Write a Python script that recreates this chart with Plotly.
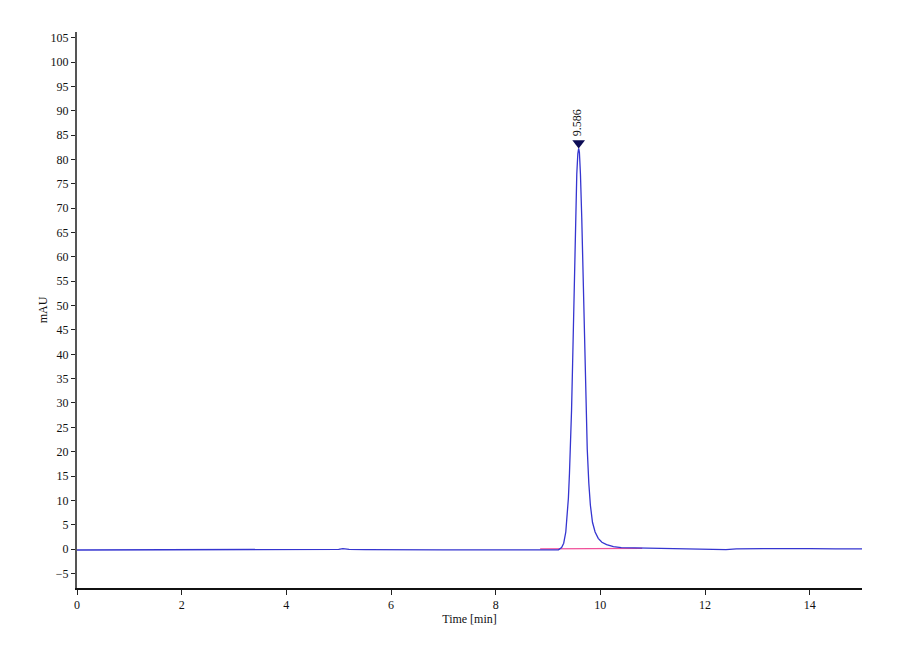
import plotly.graph_objects as go

# chromatogram trace (time in min, signal in mAU)
time_min = [0.0, 1.0, 2.0, 3.0, 4.0, 4.8, 5.0, 5.08, 5.2, 5.5, 6.0, 7.0, 8.0, 8.5, 9.0,
            9.20, 9.26, 9.30, 9.34, 9.37, 9.39, 9.41, 9.43, 9.45, 9.47, 9.49, 9.51,
            9.53, 9.55, 9.57, 9.586, 9.60, 9.62, 9.645, 9.67, 9.695, 9.72, 9.75,
            9.78, 9.81, 9.85, 9.90, 9.96, 10.03, 10.12, 10.25, 10.40, 10.6, 10.9,
            11.2, 11.6, 11.9, 12.2, 12.4, 12.6, 13.0, 13.5, 14.0, 14.5, 15.0]
signal_mau = [-0.2, -0.2, -0.2, -0.2, -0.15, -0.15, -0.05, 0.1, -0.05, -0.1, -0.15, -0.15, -0.15, -0.15, -0.1,
              -0.15, 0.3, 1.2, 3.5, 7.0, 10.5, 15.5, 21.0, 28.5, 38.0, 49.0, 60.0,
              70.0, 77.0, 81.2, 82.3, 81.5, 77.0, 68.0, 56.0, 43.0, 31.0, 20.5,
              13.5, 9.0, 5.5, 3.5, 2.2, 1.4, 0.9, 0.5, 0.3, 0.25, 0.2,
              0.1, 0.0, -0.1, -0.15, -0.1, 0.05, 0.1, 0.05, 0.1, 0.05, 0.05]

# integration baseline under the peak
base_time = [8.85, 10.8]
base_mau = [0.05, 0.15]

peak_rt = 9.586
peak_label = "9.586"
marker_mau = 83.4

x_ticks = [0, 2, 4, 6, 8, 10, 12, 14]
y_ticks = list(range(-5, 106, 5))

fig = go.Figure()
fig.add_trace(go.Scatter(x=base_time, y=base_mau, mode="lines",
                         line=dict(color="#f0509a", width=1.2), hoverinfo="skip"))
fig.add_trace(go.Scatter(x=time_min, y=signal_mau, mode="lines",
                         line=dict(color="#3535d0", width=1.3)))
fig.add_trace(go.Scatter(x=[peak_rt], y=[marker_mau], mode="markers",
                         marker=dict(symbol="triangle-down", size=11, color="#0c0c55")))

fig.add_annotation(x=peak_rt, y=marker_mau, text=peak_label, textangle=-90,
                   showarrow=False, yanchor="bottom", yshift=5, xshift=-2,
                   font=dict(family="Liberation Serif", size=12, color="#111"))

# page body adds 8px on the left/top, margins compensate for it
fig.update_layout(
    width=900, height=660,
    margin=dict(l=69, r=46, t=24, b=80),
    paper_bgcolor="white", plot_bgcolor="white",
    showlegend=False,
    font=dict(family="Liberation Serif", size=12, color="#111"),
    xaxis=dict(range=[0, 15], tickvals=x_ticks, ticks="outside", ticklen=5,
               tickcolor="#222", showline=True, linecolor="#111", linewidth=2,
               showgrid=False, zeroline=False,
               title=dict(text="Time [min]", standoff=2, font=dict(size=12))),
    yaxis=dict(range=[-8, 106.2], tickvals=y_ticks, ticks="outside", ticklen=4,
               tickcolor="#222", showline=True, linecolor="#555", linewidth=2,
               showgrid=False, zeroline=False,
               title=dict(text="mAU", standoff=0, font=dict(size=12))),
)

fig.write_html("out.html")
